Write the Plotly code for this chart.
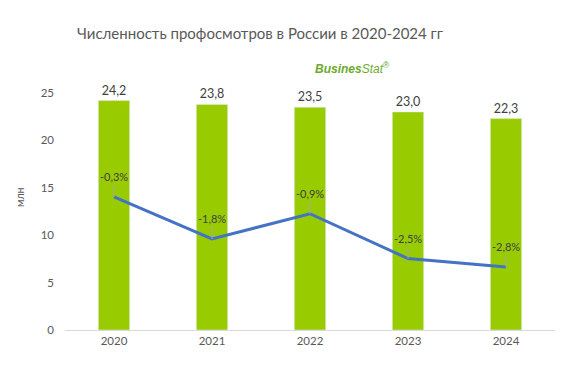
import plotly.graph_objects as go

years = ["2020", "2021", "2022", "2023", "2024"]
values = [24.2, 23.8, 23.5, 23.0, 22.3]
growth = [-0.3, -1.8, -0.9, -2.5, -2.8]
value_labels = ["24,2", "23,8", "23,5", "23,0", "22,3"]
growth_labels = ["-0,3%", "-1,8%", "-0,9%", "-2,5%", "-2,8%"]

FONT = "Lato"
fig = go.Figure()
fig.add_trace(go.Bar(
    x=years, y=values, marker_color="#99CC00", width=0.32,
    text=value_labels, textposition="outside", cliponaxis=False,
    textfont=dict(size=12.5, color="#404040", family=FONT),
    hoverinfo="skip", yaxis="y",
))
fig.add_trace(go.Scatter(
    x=years, y=growth, mode="lines", line=dict(color="#4472C4", width=3),
    yaxis="y2", hoverinfo="skip",
))
for i, (g, t) in enumerate(zip(growth, growth_labels)):
    fig.add_annotation(x=i, y=g, xref="x", yref="y2", text=t, showarrow=True,
                       arrowhead=0, arrowwidth=1, arrowcolor="#A6A6A6", ax=0, ay=-12,
                       font=dict(size=11, color="#404040", family=FONT), yanchor="bottom")

fig.add_annotation(xref="paper", yref="paper", x=(260-65)/490, y=(330-33)/237,
                   text="Численность профосмотров в России в 2020-2024 гг", showarrow=False,
                   font=dict(size=15, color="#595959", family=FONT),
                   xanchor="center", yanchor="middle")
fig.add_annotation(xref="paper", yref="paper", x=(352-65)/490, y=(330-68)/237,
                   text="<b><i>Busines</i></b><i>Stat</i><sup>®</sup>", showarrow=False,
                   font=dict(size=12, color="#6DAA2C", family="Liberation Sans"),
                   xanchor="center", yanchor="middle")
fig.add_annotation(xref="paper", yref="paper", x=(20-65)/490, y=(330-197)/237,
                   text="млн", textangle=-90, showarrow=False,
                   font=dict(size=10.5, color="#595959", family=FONT), xanchor="center", yanchor="middle")

fig.update_layout(
    width=583, height=369, margin=dict(l=65, r=28, t=93, b=39),
    paper_bgcolor="white", plot_bgcolor="white", showlegend=False,
    font=dict(family=FONT, color="#595959"),
    xaxis=dict(type="category", range=[-0.5, 4.5], showgrid=False, showline=True,
               linecolor="#D9D9D9", linewidth=1,
               ticks="", tickfont=dict(size=11.5, color="#595959"), fixedrange=True),
    yaxis=dict(range=[0, 25], dtick=5, showgrid=False, zeroline=False, showline=False,
               tickfont=dict(size=11.5, color="#595959"), ticklabelstandoff=10),
    yaxis2=dict(range=[-5.05, 3.41], overlaying="y", side="right", visible=False),
)
fig.write_html("out.html", config={"displayModeBar": False},
               post_script="document.body.style.margin='0';")
